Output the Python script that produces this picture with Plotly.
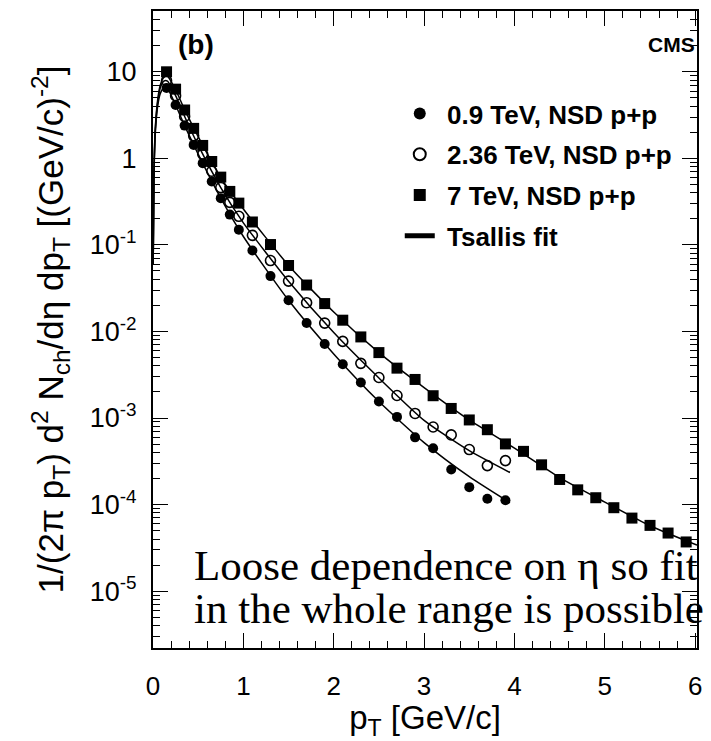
import plotly.graph_objects as go

# Charged-hadron pT spectra, NSD p+p (CMS), with Tsallis fits
pt_7tev = [0.15, 0.25, 0.35, 0.45, 0.55, 0.65, 0.75, 0.85, 0.95,
           1.1, 1.3, 1.5, 1.7, 1.9, 2.1, 2.3, 2.5, 2.7, 2.9, 3.1, 3.3, 3.5, 3.7, 3.9,
           4.1, 4.3, 4.5, 4.7, 4.9, 5.1, 5.3, 5.5, 5.7, 5.9]
yield_7tev = [10.0, 6.3, 3.62, 2.22, 1.41, 0.92, 0.607, 0.415, 0.304,
              0.184, 0.101, 0.0578, 0.0344, 0.021, 0.0135, 0.00865, 0.0057, 0.00377, 0.00279,
              0.00181, 0.00129, 0.00095, 0.000733, 0.000502, 0.000412, 0.000288, 0.000195,
              0.000148, 0.00012, 9.2e-5, 6.98e-5, 5.75e-5, 4.69e-5, 3.7e-5]

pt_low_e = [0.15, 0.25, 0.35, 0.45, 0.55, 0.65, 0.75, 0.85, 0.95,
            1.1, 1.3, 1.5, 1.7, 1.9, 2.1, 2.3, 2.5, 2.7, 2.9, 3.1, 3.3, 3.5, 3.7, 3.9]
yield_236tev = [7.9, 5.3, 3.05, 1.82, 1.12, 0.71, 0.46, 0.31, 0.214,
                0.129, 0.066, 0.0382, 0.0215, 0.0125, 0.00768, 0.00428, 0.00294, 0.00182,
                0.00113, 0.000788, 0.000638, 0.000432, 0.000282, 0.000322]
yield_09tev = [6.5, 4.13, 2.39, 1.43, 0.88, 0.54, 0.347, 0.224, 0.150,
               0.0861, 0.0436, 0.0229, 0.0125, 0.00718, 0.00419, 0.00257, 0.00155, 0.00103,
               0.000598, 0.000447, 0.000254, 0.000159, 0.000117, 0.000112]

# Tsallis fit curves sampled along pT
fit_pt_7tev = [0.002, 0.01, 0.025, 0.05, 0.08, 0.12, 0.16, 0.25, 0.35, 0.5, 0.75, 1.0,
               1.5, 2.0, 2.5, 3.0, 3.5, 4.0, 4.5, 5.0, 5.5, 6.02]
fit_7tev = [0.06, 0.6, 2.2, 4.6, 7.0, 8.6, 8.9, 6.2, 3.65, 1.78, 0.60, 0.26,
            0.058, 0.0168, 0.0057, 0.00225, 0.00095, 0.00045, 0.000205, 0.000107, 5.7e-5, 3.4e-5]
fit_pt_low_e = [0.002, 0.01, 0.025, 0.05, 0.08, 0.12, 0.16, 0.25, 0.35, 0.5, 0.75, 1.0,
                1.5, 2.0, 2.5, 3.0, 3.5, 3.95]
fit_236tev = [0.06, 0.6, 2.1, 4.3, 6.5, 7.8, 7.8, 5.3, 3.05, 1.42, 0.46, 0.18,
              0.038, 0.0097, 0.0029, 0.00094, 0.00042, 0.000235]
fit_09tev = [0.06, 0.55, 1.9, 3.9, 5.6, 6.5, 6.4, 4.13, 2.39, 1.12, 0.347, 0.125,
             0.0229, 0.0055, 0.00155, 0.00052, 0.00021, 0.000105]

y_tick_vals = [1e-5, 1e-4, 1e-3, 1e-2, 1e-1, 1, 10]
y_tick_text = ["10<sup>-5</sup>", "10<sup>-4</sup>", "10<sup>-3</sup>", "10<sup>-2</sup>",
               "10<sup>-1</sup>", "1", "10"]

FONT = "Liberation Sans"

fig = go.Figure()

fit_style = dict(mode="lines", line=dict(color="black", width=1.5, shape="spline", smoothing=0.6),
                 hoverinfo="skip")
fig.add_trace(go.Scatter(x=fit_pt_low_e, y=fit_09tev, showlegend=False, **fit_style))
fig.add_trace(go.Scatter(x=fit_pt_low_e, y=fit_236tev, showlegend=False, **fit_style))
fig.add_trace(go.Scatter(x=fit_pt_7tev, y=fit_7tev, showlegend=False, **fit_style))

fig.add_trace(go.Scatter(x=pt_low_e, y=yield_09tev, mode="markers",
                         name="&nbsp;<b>0.9 TeV, NSD p+p</b>",
                         legendgroup="a", legendrank=1,
                         marker=dict(symbol="circle", size=10, color="black")))
fig.add_trace(go.Scatter(x=pt_low_e, y=yield_236tev, mode="markers",
                         name="&nbsp;<b>2.36 TeV, NSD p+p</b>",
                         legendgroup="b", legendrank=2,
                         marker=dict(symbol="circle-open", size=10, color="black",
                                     line=dict(width=1.6, color="black"))))
fig.add_trace(go.Scatter(x=pt_7tev, y=yield_7tev, mode="markers",
                         name="&nbsp;<b>7 TeV, NSD p+p</b>",
                         legendgroup="c", legendrank=3,
                         marker=dict(symbol="square", size=11, color="black")))
# legend entry for the fit curves
fig.add_trace(go.Scatter(x=[None], y=[None], mode="lines", name="&nbsp;<b>Tsallis fit</b>",
                         legendgroup="d", legendrank=4,
                         line=dict(color="black", width=1)))

log_minor = [k * 10.0 ** e for e in range(-6, 2) for k in range(2, 10)]

fig.update_xaxes(
    range=[0, 6.02], tickvals=[0, 1, 2, 3, 4, 5, 6],
    ticks="inside", ticklen=15, tickwidth=1.2, tickcolor="black",
    showline=True, linewidth=2, linecolor="black", mirror="allticks",
    showgrid=False, zeroline=False,
    ticklabelstandoff=14,
    tickfont=dict(family=FONT, size=26, color="black"),
    minor=dict(dtick=0.2, ticks="inside", ticklen=7, tickwidth=1.2, tickcolor="black", showgrid=False),
    title=dict(text="p<sub>T</sub> [GeV/c]", font=dict(family=FONT, size=33, color="black"), standoff=8),
)
fig.update_yaxes(
    type="log", range=[-5.657, 1.7025],
    tickvals=y_tick_vals, ticktext=y_tick_text,
    ticks="inside", ticklen=15, tickwidth=1.2, tickcolor="black",
    showline=True, linewidth=2, linecolor="black", mirror="allticks",
    showgrid=False, zeroline=False,
    ticklabelstandoff=9,
    tickfont=dict(family=FONT, size=27, color="black"),
    minor=dict(tickvals=log_minor, ticks="inside", ticklen=7, tickwidth=1.2, tickcolor="black",
               showgrid=False),
    title=dict(text="1/(2π p<sub>T</sub>) d<sup>2</sup> N<sub>ch</sub>/dη dp<sub>T</sub> [(GeV/c)<sup>-2</sup>]",
               font=dict(family=FONT, size=35, color="black"), standoff=16),
)

fig.update_layout(
    width=711, height=741,
    margin=dict(l=153, r=9, t=9, b=93),
    paper_bgcolor="white", plot_bgcolor="white",
    font=dict(family=FONT, color="black"),
    legend=dict(x=0.4536, y=0.876, xanchor="left", yanchor="top",
                bgcolor="rgba(0,0,0,0)", borderwidth=0,
                font=dict(family=FONT, size=26, color="black"),
                tracegroupgap=4, itemsizing="constant"),
    annotations=[
        dict(text="<b>(b)</b>", xref="paper", yref="paper", x=0.043, y=0.947,
             xanchor="left", yanchor="middle", showarrow=False,
             font=dict(family=FONT, size=28, color="black")),
        dict(text="<b>CMS</b>", xref="paper", yref="paper", x=1.0, y=0.947,
             xanchor="right", yanchor="middle", showarrow=False,
             font=dict(family=FONT, size=21, color="black")),
        dict(text="Loose dependence on η so fit", xref="paper", yref="paper", x=0.071, y=0.130,
             xanchor="left", yanchor="middle", showarrow=False,
             font=dict(family="Liberation Serif", size=43, color="black")),
        dict(text="in the whole range is possible", xref="paper", yref="paper", x=0.071, y=0.062,
             xanchor="left", yanchor="middle", showarrow=False,
             font=dict(family="Liberation Serif", size=43, color="black")),
    ],
)

fig.write_html("out.html")
